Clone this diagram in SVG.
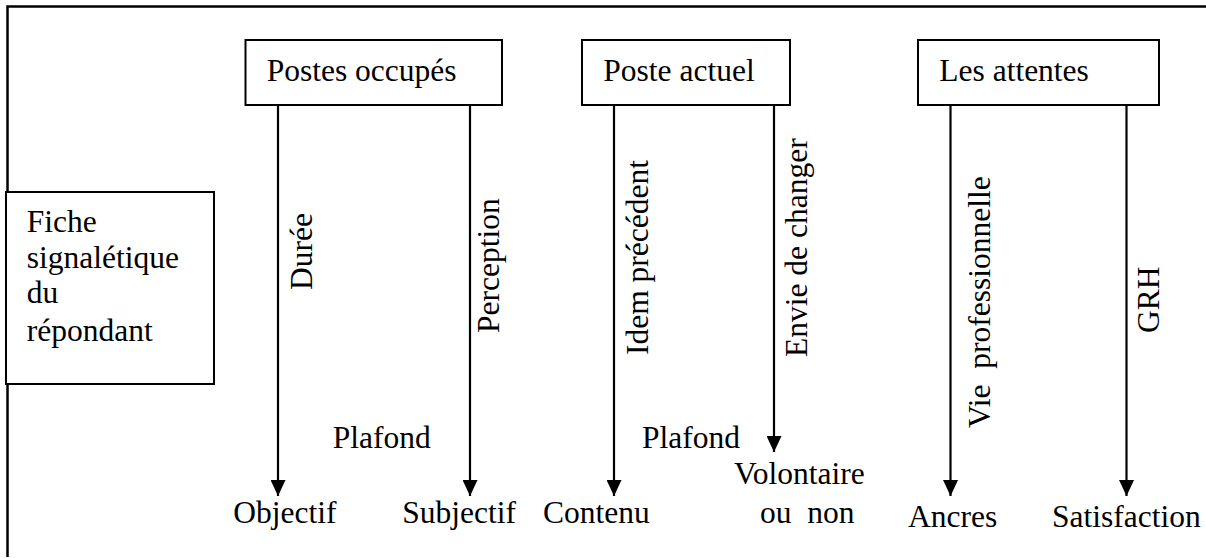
<svg xmlns="http://www.w3.org/2000/svg" width="1206" height="558" viewBox="0 0 1206 558">
<style>
  text { font-size: 31.5px; fill: #000; white-space: pre; }
  .box { fill: #fff; stroke: #000; stroke-width: 2; }
  .frame { fill: none; stroke: #000; stroke-width: 2.5; }
  .arrow { stroke: #000; stroke-width: 2.2; fill: none; marker-end: url(#ah); }
</style>
<defs>
  <marker id="ah" viewBox="0 0 16 15" refX="16" refY="7.5" markerWidth="16" markerHeight="15" markerUnits="userSpaceOnUse" orient="auto">
    <path d="M0,0 L16,7.5 L0,15 z" fill="#000"/>
  </marker>
</defs>
<rect width="1206" height="558" fill="#fff"/>
<path class="frame" d="M7.5,557 L7.5,6.5 L1206,6.5"/>

<g id="connectors">
  <line class="arrow" x1="278" y1="105" x2="278" y2="496"/>
  <line class="arrow" x1="470" y1="105" x2="470" y2="496"/>
  <line class="arrow" x1="614" y1="105" x2="614" y2="496"/>
  <line class="arrow" x1="774" y1="105" x2="774" y2="452"/>
  <line class="arrow" x1="950.5" y1="105" x2="950.5" y2="496"/>
  <line class="arrow" x1="1126.5" y1="105" x2="1126.5" y2="496"/>
</g>

<g font-family="'Liberation Serif', 'DejaVu Serif', serif">
<g id="fiche">
  <rect class="box" x="6" y="192" width="208" height="192"/>
  <text x="26.7" y="232">Fiche</text>
  <text x="26.7" y="267.5">signalétique</text>
  <text x="26.7" y="303">du</text>
  <text x="26.7" y="341">répondant</text>
</g>

<g id="postes-occupes">
  <rect class="box" x="245.5" y="40" width="256.5" height="65"/>
  <text x="266.7" y="81">Postes occupés</text>
</g>
<g id="poste-actuel">
  <rect class="box" x="582" y="40" width="208" height="65"/>
  <text x="603.3" y="81">Poste actuel</text>
</g>
<g id="les-attentes">
  <rect class="box" x="918" y="40" width="241" height="65"/>
  <text x="939.3" y="81">Les attentes</text>
</g>

<g id="labels-vertical">
  <text transform="translate(311.7,290) rotate(-90)">Durée</text>
  <text transform="translate(499,333) rotate(-90)">Perception</text>
  <text transform="translate(647.7,355) rotate(-90)">Idem précédent</text>
  <text transform="translate(807,357) rotate(-90)">Envie de changer</text>
  <text transform="translate(990,428) rotate(-90)">Vie  professionnelle</text>
  <text transform="translate(1159.3,333) rotate(-90)">GRH</text>
</g>

<g id="objectif"><text x="233.3" y="522.7">Objectif</text></g>
<g id="subjectif"><text x="402.3" y="522.7">Subjectif</text></g>
<g id="plafond-1"><text x="332.7" y="448.3">Plafond</text></g>
<g id="contenu"><text x="543" y="522.7">Contenu</text></g>
<g id="plafond-2"><text x="642" y="448.3">Plafond</text></g>
<g id="volontaire"><text x="734" y="483.5">Volontaire</text><text x="760" y="522.7">ou  non</text></g>
<g id="ancres"><text x="908" y="526.7">Ancres</text></g>
<g id="satisfaction"><text x="1052" y="526.7">Satisfaction</text></g>
</g>
</svg>
